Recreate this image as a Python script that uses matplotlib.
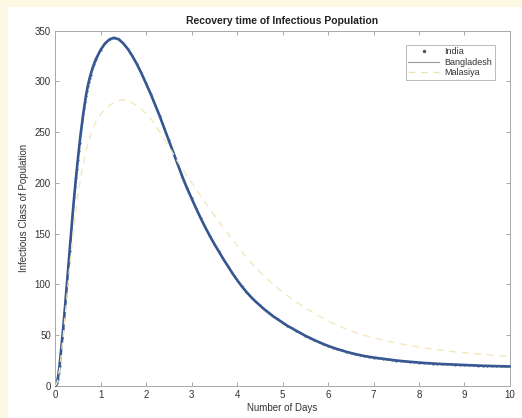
import numpy as np
import matplotlib.pyplot as plt
from matplotlib.patches import Rectangle
from matplotlib.lines import Line2D

plt.rcParams['font.family'] = ['Liberation Sans', 'DejaVu Sans']

# time grid: fine steps during the fast rise, coarser afterwards
days = np.round(np.concatenate([np.arange(0, 0.901, 0.02), np.arange(1.0, 10.001, 0.1)]), 2)

india = [
    # 0.00 - 0.90
    0, 1, 3, 7, 13, 20, 29, 38, 47, 57, 67, 78, 89, 100, 111, 122, 133, 144, 155, 166,
    176, 186, 196, 205, 214, 223, 231, 239, 247, 254, 261, 268, 274, 280, 286, 291, 295.5,
    299.5, 303, 306.5, 309.5, 312.5, 315, 317.5, 320, 322,
    # 1.0 - 10.0
    331, 337.5, 341.5, 343, 341.5, 337.5, 332, 325, 317, 308,
    298, 288, 277, 266, 254, 242, 230, 218, 206, 195,
    185, 175, 165.5, 156.5, 148, 140, 132.5, 125, 118, 111,
    104.5, 98.5, 93, 88, 83.5, 79.5, 75.5, 72, 68.5, 65.5,
    62.5, 59.5, 57, 54.5, 52, 49.5, 47.3, 45.2, 43.2, 41.3,
    39.5, 37.9, 36.4, 35, 33.7, 32.5, 31.4, 30.4, 29.5, 28.7,
    28, 27.4, 26.8, 26.2, 25.6, 25.1, 24.6, 24.2, 23.8, 23.4,
    23, 22.7, 22.4, 22.1, 21.9, 21.6, 21.4, 21.2, 21.0, 20.8,
    20.6, 20.4, 20.2, 20.1, 19.9, 19.8, 19.6, 19.5, 19.4, 19.3,
    19.2,
]

# Bangladesh follows the India curve
bangladesh = list(india)

malasiya = [
    # 0.00 - 0.90
    0, 1, 3, 6, 11, 17, 24, 32, 40, 49, 58, 67, 77, 87, 97, 107, 116, 125, 134, 142,
    150, 158, 165, 172, 179,
    187, 193, 199, 204.5, 209.5, 214.5, 219, 223.5, 227.5, 231.5, 235, 238.5, 241.5,
    244.5, 247.5, 250, 252.5, 254.5, 256.5, 258.5, 260.5,
    # 1.0 - 10.0
    267.5, 272.5, 276.5, 279.5, 281.3, 282, 281, 279, 276, 272.5,
    268.5, 263.5, 257.5, 250.5, 243.5, 236, 228.5, 221, 214, 207,
    200.5, 194, 187.5, 181, 174.5, 168.2, 162, 156, 150, 144,
    138.2, 132.6, 127.2, 122.1, 117.2, 112.6, 108.2, 104, 100, 96.2,
    92.7, 89.3, 86, 82.9, 79.9, 77, 74.2, 71.5, 69, 66.5,
    64.1, 61.9, 59.8, 57.9, 56.1, 54.4, 52.8, 51.3, 49.9, 48.6,
    47.4, 46.3, 45.2, 44.2, 43.2, 42.3, 41.4, 40.6, 39.8, 39,
    38.3, 37.6, 36.9, 36.3, 35.7, 35.1, 34.6, 34.1, 33.6, 33.1,
    32.7, 32.3, 31.9, 31.5, 31.1, 30.8, 30.4, 30.1, 29.8, 29.5,
    29.2,
]

navy = '#34558f'

fig = plt.figure(figsize=(5.22, 4.18), dpi=100)
fig.patch.set_facecolor('white')
# cream page edge along the top and left
fig.add_artist(Rectangle((0, 1 - 7 / 418), 1, 7 / 418, transform=fig.transFigure,
                         facecolor='#fdf8e4', edgecolor='none', zorder=0))
fig.add_artist(Rectangle((0, 0), 8 / 522, 1, transform=fig.transFigure,
                         facecolor='#fdf8e4', edgecolor='none', zorder=0))

ax = fig.add_axes([0.1054, 0.0766, 0.8716, 0.8500])

ax.plot(days, bangladesh, color=navy, linewidth=1.9, zorder=2, solid_capstyle='round')
ax.plot(days, india, linestyle='none', marker='.', markersize=3.2, color='#3d5d94',
        markeredgewidth=0, zorder=3)
ax.plot(days, malasiya, linestyle=(0, (5, 4)), color='#f4e8bd', linewidth=1.0, zorder=4)

ax.set_xlim(0, 10)
ax.set_ylim(0, 350)
ax.set_xticks(range(0, 11))
ax.set_yticks(range(0, 351, 50))
ax.tick_params(direction='in', length=3, width=0.6, top=True, right=True,
               labelsize=7, colors='#9a9a9a', labelcolor='#333333', pad=3)
for s in ax.spines.values():
    s.set_color('#a8a8a8')
    s.set_linewidth(0.7)

ax.set_title('Recovery time of Infectious Population', fontsize=7.5,
             fontweight='bold', color='#222222', pad=5)
ax.set_xlabel('Number of Days', fontsize=7, color='#333333', labelpad=2)
ax.set_ylabel('Infectious Class of Population', fontsize=7, color='#333333', labelpad=4)

handles = [
    Line2D([], [], linestyle='none', marker='.', markersize=3, color='#555555'),
    Line2D([], [], color='#9a9a9a', linewidth=0.8),
    Line2D([], [], linestyle=(0, (5, 4)), color='#f0e2b0', linewidth=1.0),
]
leg = ax.legend(handles, ['India', 'Bangladesh', 'Malasiya'],
                loc='upper right', bbox_to_anchor=(0.977, 0.973), fontsize=6.5,
                frameon=True, fancybox=False, handlelength=3.4, borderpad=0.3,
                labelspacing=0.15, handletextpad=0.6)
leg.get_frame().set_edgecolor('#a8a8a8')
leg.get_frame().set_linewidth(0.7)
for t in leg.get_texts():
    t.set_color('#333333')

fig.savefig('out.png', dpi=100)
